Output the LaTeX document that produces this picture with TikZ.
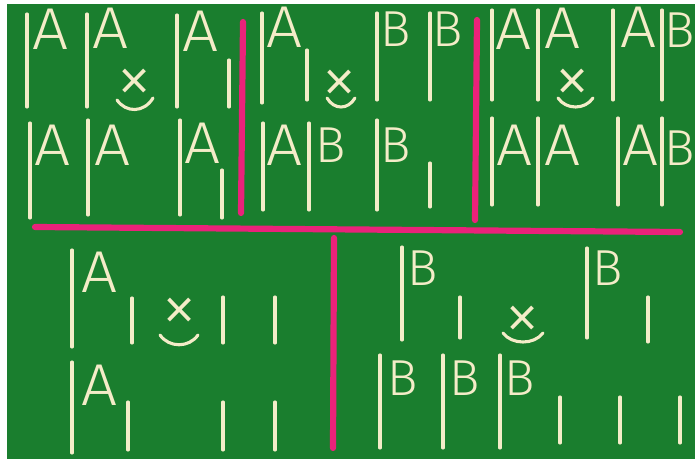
\documentclass[tikz,border=0pt]{standalone}
\usepackage{fontspec}
\newfontfamily\yarnfont{Fira Sans Light}
\definecolor{board}{RGB}{26,126,46}
\definecolor{wool}{RGB}{244,236,200}
\definecolor{ribbon}{RGB}{234,34,122}

\begin{document}
\begin{tikzpicture}[
    x=0.025cm, y=-0.025cm,
    yarn/.style={draw=wool, line width=2.2pt, line cap=round},
    divider/.style={draw=ribbon, line width=4.4pt, line cap=round},
    alleleA/.style={anchor=base west, inner sep=0pt, text=wool,
                    font=\yarnfont\fontsize{42}{42}\selectfont, xscale=1.08},
    alleleB/.style={anchor=base west, inner sep=0pt, text=wool,
                    font=\yarnfont\fontsize{36}{36}\selectfont},
    cross/.style={inner sep=0pt, text=wool, text height=26pt, text depth=0pt,
                  font=\yarnfont\fontsize{52}{52}\selectfont}
  ]

  % Board
  \useasboundingbox (0,0) rectangle (695,459);
  \fill[white] (0,0) rectangle (695,459);
  \fill[board] (7,4) rectangle (695,459);

  % Dividers
  \draw[divider] (243,22) -- (241,213);
  \draw[divider] (477,20) -- (475,220);
  \draw[divider] (35,227) -- (680,232);
  \draw[divider] (334,238) -- (333,448);

  % Panel 1, top row
  \draw[yarn] (27,14) -- (27,107);
  \draw[yarn] (87,14) -- (87,107);
  \draw[yarn] (177,15) -- (177,107);
  \draw[yarn] (229,60) -- (229,107);
  \node[alleleA] (p1a) at (32,50) {A};
  \node[alleleA] (p1b) at (92,49) {A};
  \node[alleleA] (p1c) at (182,52) {A};
  \node[cross] (p1x) at (135,85) {×};
  \draw[yarn] (117,100) .. controls (126,113) and (144,113) .. (153,98);

  % Panel 1, bottom row
  \draw[yarn] (30,123) -- (30,218);
  \draw[yarn] (88,120) -- (88,215);
  \draw[yarn] (180,120) -- (180,215);
  \draw[yarn] (222,170) -- (222,218);
  \node[alleleA] (p1d) at (34,165) {A};
  \node[alleleA] (p1e) at (94,165) {A};
  \node[alleleA] (p1f) at (184,163) {A};

  % Panel 2, top row
  \draw[yarn] (262,13) -- (262,103);
  \draw[yarn] (307,50) -- (307,100);
  \draw[yarn] (377,13) -- (377,100);
  \draw[yarn] (430,13) -- (430,100);
  \node[alleleA] (p2a) at (266,48) {A};
  \node[alleleB] (p2b) at (380,47) {B};
  \node[alleleB] (p2c) at (432,47) {B};
  \node[cross] (p2x) at (340,86) {×};
  \draw[yarn] (327,98) .. controls (334,110) and (348,110) .. (355,98);

  % Panel 2, bottom row
  \draw[yarn] (263,123) -- (263,210);
  \draw[yarn] (309,123) -- (309,210);
  \draw[yarn] (377,120) -- (377,210);
  \draw[yarn] (430,163) -- (430,207);
  \node[alleleA] (p2d) at (266,165) {A};
  \node[alleleB] (p2e) at (315,162) {B};
  \node[alleleB] (p2f) at (380,162) {B};

  % Panel 3, top row
  \draw[yarn] (492,10) -- (492,100);
  \draw[yarn] (538,10) -- (538,100);
  \draw[yarn] (613,10) -- (613,100);
  \draw[yarn] (662,10) -- (662,100);
  \node[alleleA] (p3a) at (495,50) {A};
  \node[alleleA] (p3b) at (544,49) {A};
  \node[alleleA] (p3c) at (620,48) {A};
  \node[alleleB] (p3d) at (664,48) {B};
  \node[cross] (p3x) at (573,85) {×};
  \draw[yarn] (558,98) .. controls (566,110) and (585,110) .. (593,98);

  % Panel 3, bottom row
  \draw[yarn] (492,118) -- (492,205);
  \draw[yarn] (538,118) -- (538,205);
  \draw[yarn] (618,118) -- (618,205);
  \draw[yarn] (662,118) -- (662,205);
  \node[alleleA] (p3e) at (496,165) {A};
  \node[alleleA] (p3f) at (544,165) {A};
  \node[alleleA] (p3g) at (622,165) {A};
  \node[alleleB] (p3h) at (664,165) {B};

  % Lower left, top row
  \draw[yarn] (72,250) -- (72,347);
  \draw[yarn] (132,298) -- (132,343);
  \draw[yarn] (223,297) -- (223,343);
  \draw[yarn] (275,297) -- (275,343);
  \node[alleleA] (q1a) at (81,292) {A};
  \node[cross] (q1x) at (180,314) {×};
  \draw[yarn] (160,335) .. controls (169,348) and (189,348) .. (198,335);

  % Lower left, bottom row
  \draw[yarn] (72,362) -- (72,453);
  \draw[yarn] (128,402) -- (128,450);
  \draw[yarn] (223,402) -- (223,450);
  \draw[yarn] (275,402) -- (275,450);
  \node[alleleA] (q1b) at (81,405) {A};

  % Lower right, top row
  \draw[yarn] (402,247) -- (402,340);
  \draw[yarn] (460,297) -- (460,338);
  \draw[yarn] (587,248) -- (587,338);
  \draw[yarn] (648,297) -- (648,342);
  \node[alleleB] (q2a) at (407,285) {B};
  \node[alleleB] (q2b) at (592,285) {B};
  \node[cross] (q2x) at (523,322) {×};
  \draw[yarn] (503,333) .. controls (512,345) and (534,345) .. (543,333);

  % Lower right, bottom row
  \draw[yarn] (380,355) -- (380,448);
  \draw[yarn] (443,355) -- (443,448);
  \draw[yarn] (500,355) -- (500,448);
  \draw[yarn] (560,397) -- (560,443);
  \draw[yarn] (620,397) -- (620,443);
  \draw[yarn] (680,397) -- (680,443);
  \node[alleleB] (q2c) at (387,395) {B};
  \node[alleleB] (q2d) at (449,395) {B};
  \node[alleleB] (q2e) at (504,395) {B};

\end{tikzpicture}
\end{document}
